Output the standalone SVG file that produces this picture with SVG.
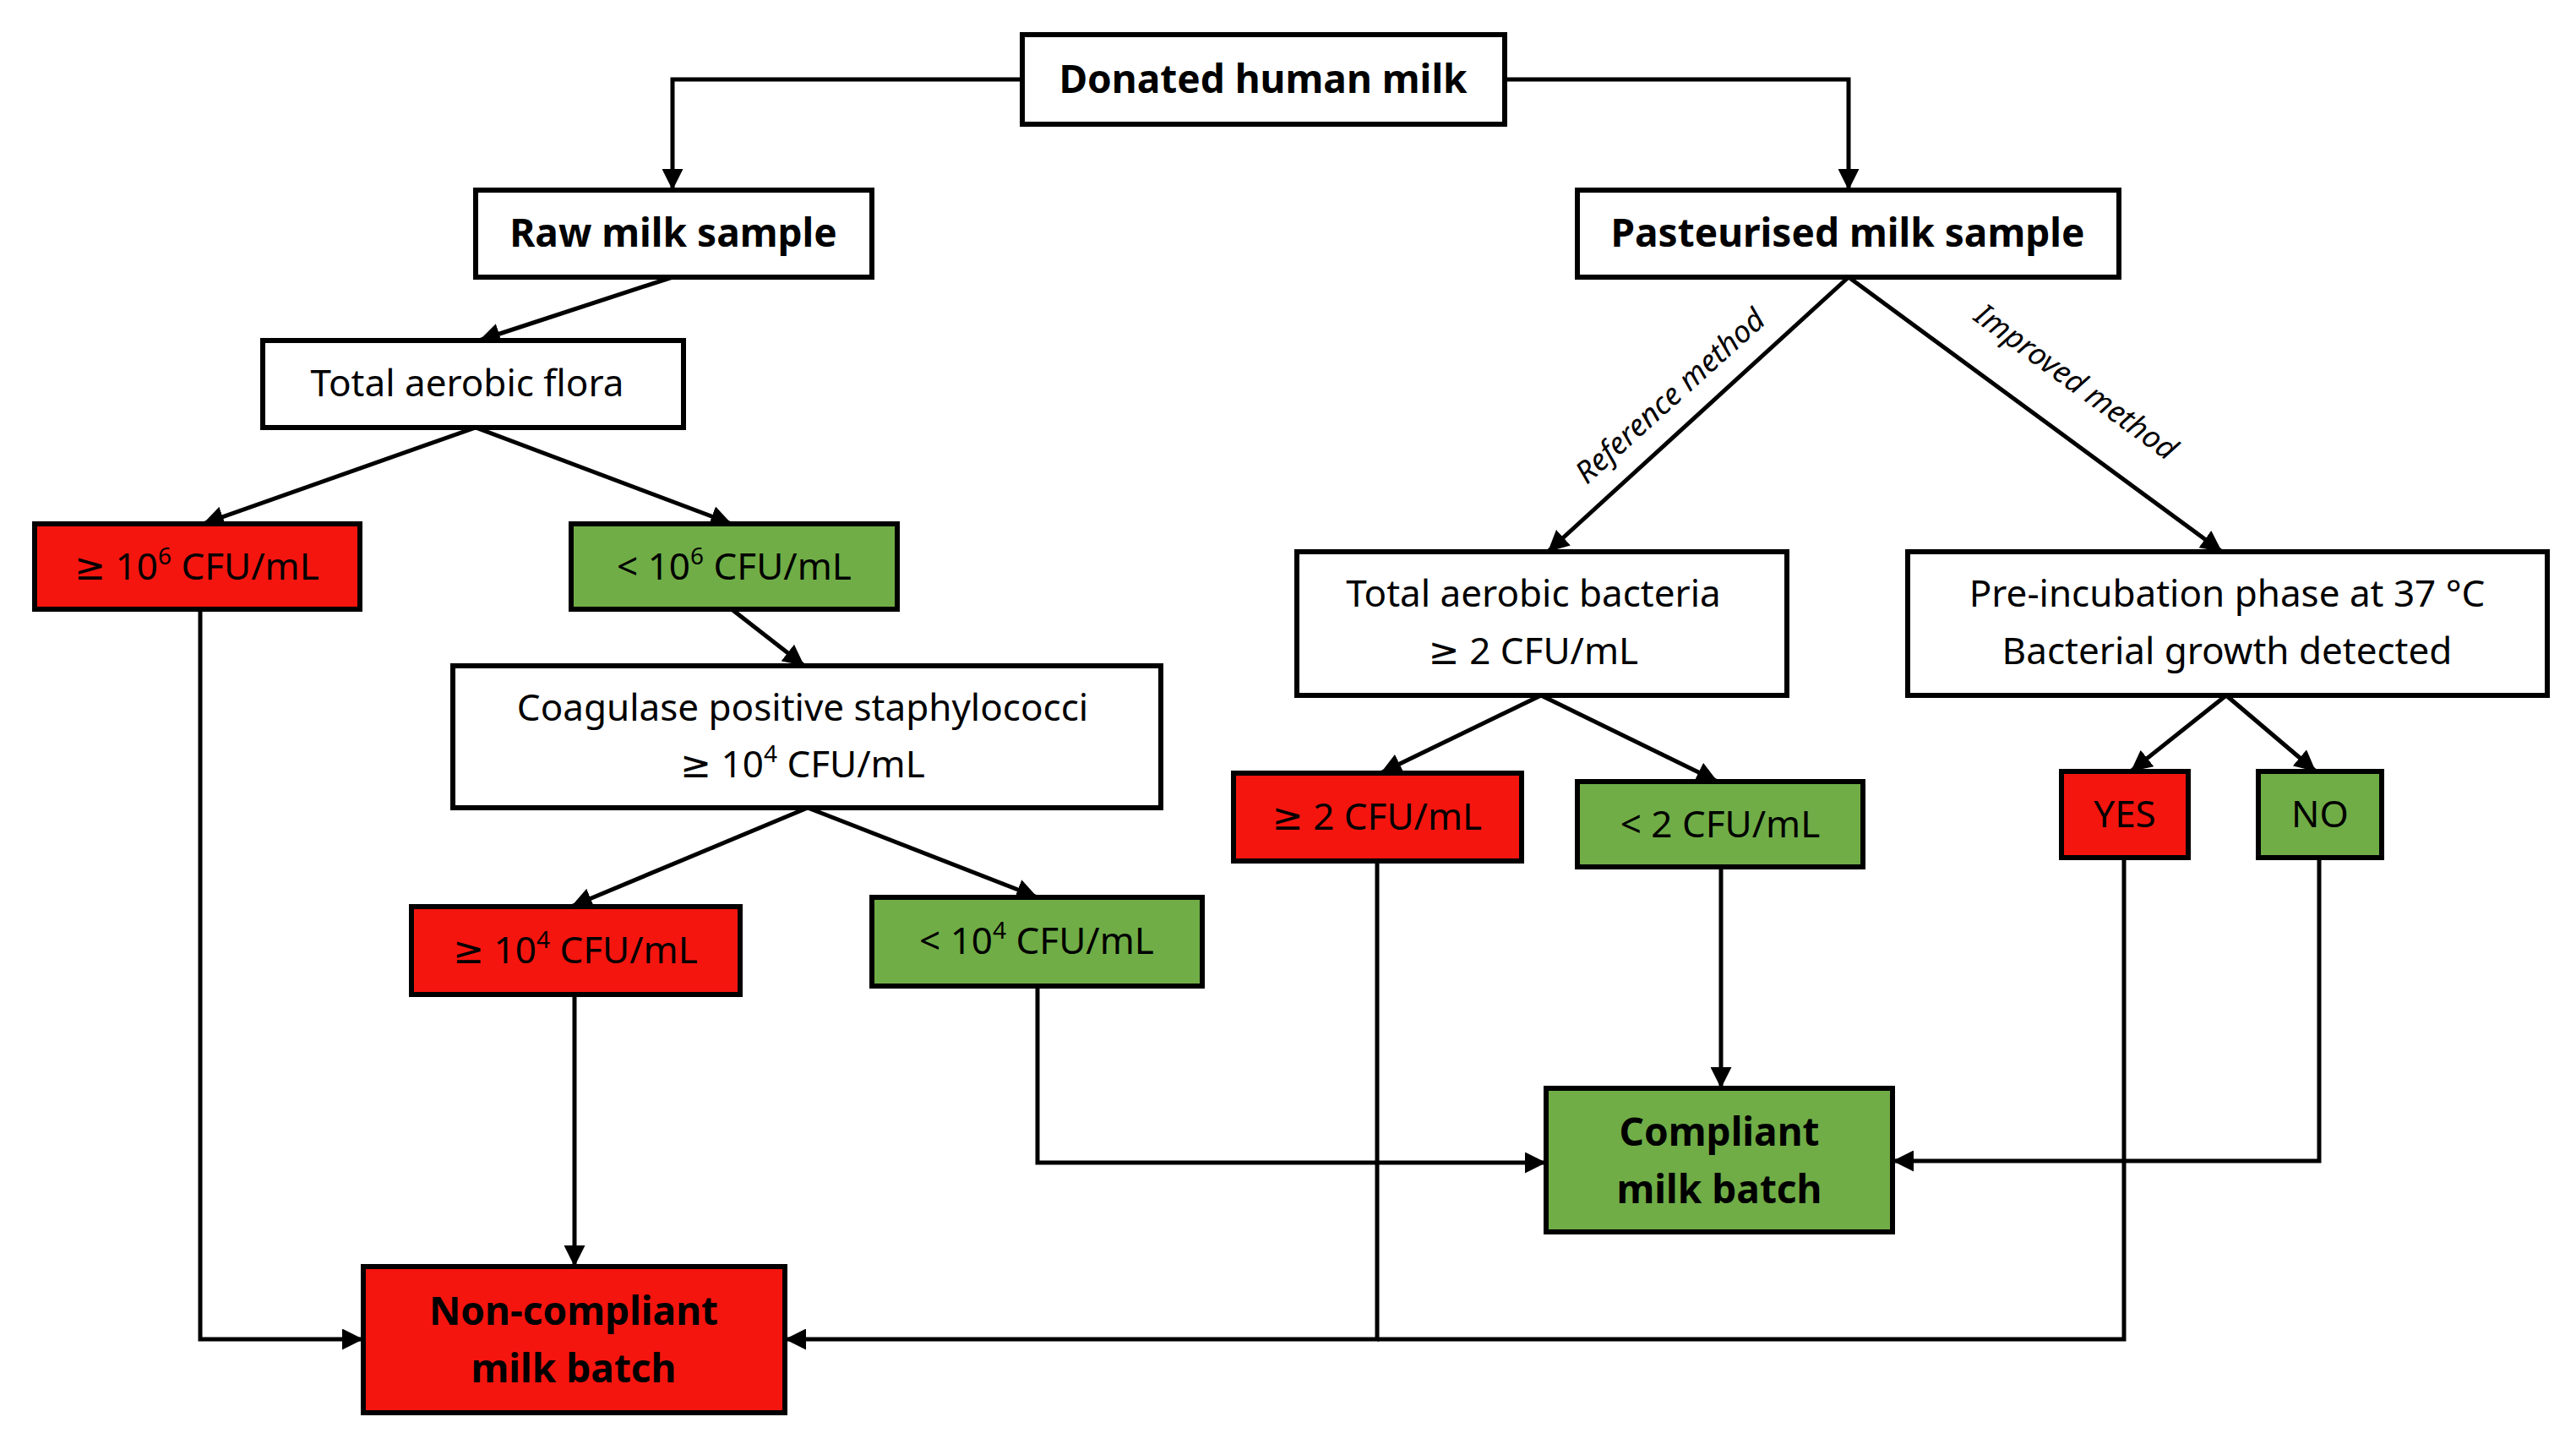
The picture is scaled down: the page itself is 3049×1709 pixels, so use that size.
<svg xmlns="http://www.w3.org/2000/svg" width="3049" height="1709" viewBox="0 0 3049 1709">
<defs>
<marker id="ah" viewBox="0 0 10 10" refX="10" refY="5" markerWidth="5" markerHeight="5" orient="auto" markerUnits="strokeWidth"><path d="M0,0 L10,5 L0,10 z" fill="#000"/></marker>
<style>
.b{stroke:#000;stroke-width:6}
.w{fill:#fff}.r{fill:#F5150F}.g{fill:#70AD47}
text{font-family:"Noto Sans","DejaVu Sans",sans-serif;font-size:44px;fill:#000;text-anchor:middle}
.bold{font-weight:bold;font-size:46px}
.c path{fill:none;stroke:#000;stroke-width:5;marker-end:url(#ah)}
.c path.n{marker-end:none}
.lab{font-style:italic;font-size:36px}
</style>
</defs>
<rect width="3049" height="1709" fill="#fff"/>
<g class="c">
<path d="M1210,94 H796 V225"/>
<path d="M1781,94 H2188 V225"/>
<path d="M796,328 L567,403"/>
<path d="M563,506 L240,620"/>
<path d="M563,506 L866,620"/>
<path d="M866,721 L952,788"/>
<path d="M956,956 L676,1073"/>
<path d="M956,956 L1228,1062"/>
<path d="M680,1177 V1499"/>
<path d="M237,721 V1585 H430"/>
<path d="M1228,1167 V1376 H1830"/>
<path class="n" d="M2514,1015 V1585 H1630"/>
<path d="M1630,1019 V1585 H929"/>
<path d="M2037,1026 V1288"/>
<path d="M2745,1015 V1374 H2240"/>
<path d="M2188,328 L1832,653"/>
<path d="M2188,328 L2630,653"/>
<path d="M1824,823 L1634,915"/>
<path d="M1824,823 L2033,925"/>
<path d="M2635,823 L2522,913"/>
<path d="M2635,823 L2741,913"/>
<text class="lab" transform="translate(1985,478) rotate(-42)">Reference method</text>
<text class="lab" transform="translate(2450,462) rotate(36)">Improved method</text>
</g>
<g id="donated"><rect class="b w" x="1210" y="41" width="571" height="106"/><text class="bold" x="1495" y="110">Donated human milk</text></g>
<g id="raw"><rect class="b w" x="563" y="225" width="469" height="103"/><text class="bold" x="797" y="292">Raw milk sample</text></g>
<g id="past"><rect class="b w" x="1867" y="225" width="641" height="103"/><text class="bold" x="2187" y="292">Pasteurised milk sample</text></g>
<g id="taf"><rect class="b w" x="311" y="403" width="498" height="103"/><text x="553" y="469">Total aerobic flora</text></g>
<g id="ge6"><rect class="b r" x="41" y="620" width="385" height="101"/><text x="233" y="686">≥ 10<tspan font-size="28" dy="-18">6</tspan><tspan dy="18"> CFU/mL</tspan></text></g>
<g id="lt6"><rect class="b g" x="676" y="620" width="386" height="101"/><text x="869" y="686">&lt; 10<tspan font-size="28" dy="-18">6</tspan><tspan dy="18"> CFU/mL</tspan></text></g>
<g id="coag"><rect class="b w" x="536" y="788" width="838" height="168"/><text x="950" y="853">Coagulase positive staphylococci</text><text x="950" y="920">≥ 10<tspan font-size="28" dy="-18">4</tspan><tspan dy="18"> CFU/mL</tspan></text></g>
<g id="ge4"><rect class="b r" x="487" y="1073" width="389" height="104"/><text x="681" y="1140">≥ 10<tspan font-size="28" dy="-18">4</tspan><tspan dy="18"> CFU/mL</tspan></text></g>
<g id="lt4"><rect class="b g" x="1032" y="1062" width="391" height="105"/><text x="1227" y="1129">&lt; 10<tspan font-size="28" dy="-18">4</tspan><tspan dy="18"> CFU/mL</tspan></text></g>
<g id="tab"><rect class="b w" x="1535" y="653" width="580" height="170"/><text x="1815" y="718">Total aerobic bacteria</text><text x="1815" y="786">≥ 2 CFU/mL</text></g>
<g id="pre"><rect class="b w" x="2258" y="653" width="757" height="170"/><text x="2636" y="718">Pre-incubation phase at 37 °C</text><text x="2636" y="786">Bacterial growth detected</text></g>
<g id="ge2"><rect class="b r" x="1460" y="915" width="341" height="104"/><text x="1630" y="982">≥ 2 CFU/mL</text></g>
<g id="lt2"><rect class="b g" x="1867" y="925" width="338" height="101"/><text x="2036" y="991">&lt; 2 CFU/mL</text></g>
<g id="yes"><rect class="b r" x="2440" y="913" width="150" height="102"/><text x="2515" y="979">YES</text></g>
<g id="no"><rect class="b g" x="2673" y="913" width="146" height="102"/><text x="2746" y="979">NO</text></g>
<g id="comp"><rect class="b g" x="1830" y="1288" width="410" height="170"/><text class="bold" x="2035" y="1356">Compliant</text><text class="bold" x="2035" y="1424">milk batch</text></g>
<g id="noncomp"><rect class="b r" x="430" y="1499" width="499" height="173"/><text class="bold" x="679" y="1568">Non-compliant</text><text class="bold" x="679" y="1636">milk batch</text></g>
</svg>
